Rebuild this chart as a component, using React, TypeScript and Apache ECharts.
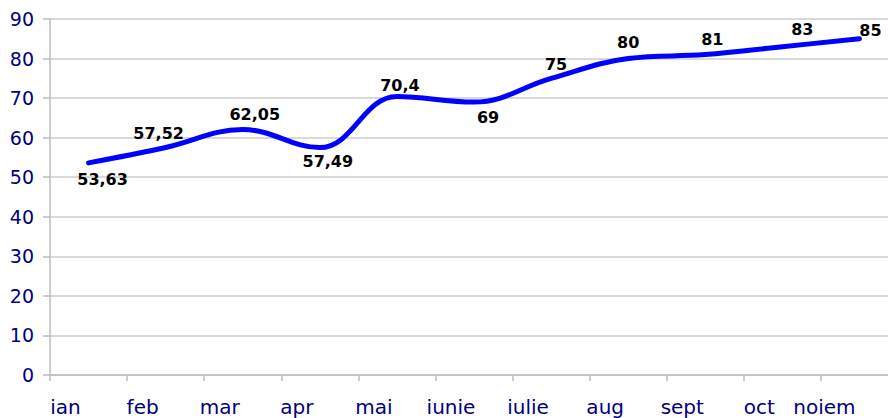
import React, { useEffect, useRef } from "react";
import * as echarts from "echarts";

const categories = ["ian", "feb", "mar", "apr", "mai", "iunie", "iulie", "aug", "sept", "oct", "noiem"];
const values = [53.63, 57.52, 62.05, 57.49, 70.4, 69, 75, 80, 81, 83, 85];
const yTicks = { min: 0, max: 90, interval: 10 };

// label placement per point (style only)
const labelPos = ["bottom", "top", "top", "bottom", "top", "bottom", "top", "top", "top", "top", "top"];
const labelOffset = [[14, 3], [-7, 0], [12, -1], [8, 0], [3, 3], [14, 1], [5, 0], [0, -2], [7, -1], [20, -3], [11, 6]];

export default function App() {
  const ref = useRef<HTMLDivElement>(null);
  useEffect(() => {
    document.body.style.margin = "0";
    document.body.style.overflow = "hidden";
    document.documentElement.style.overflow = "hidden";
    const chart = echarts.init(ref.current!, null, { renderer: "svg" });
    chart.setOption({
      animation: false,
      backgroundColor: "#ffffff",
      grid: { left: 50, top: 19, bottom: 43, right: 0 },
      xAxis: {
        type: "category",
        data: categories,
        boundaryGap: true,
        axisLine: { lineStyle: { color: "#bdbdbd", width: 1.5 } },
        axisTick: { show: true, length: 6, lineStyle: { color: "#bdbdbd", width: 1.5 } },
        axisLabel: {
          margin: 22,
          fontFamily: "DejaVu Sans",
          fontSize: 20,
          color: "#000080",
          interval: 0,
          formatter: (v: string, i: number) => (i === categories.length - 1 ? `{b|${v}}` : `{a|${v}}`),
          rich: {
            a: { fontFamily: "DejaVu Sans", fontSize: 20, color: "#000080", padding: [0, 46, 0, 0] },
            b: { fontFamily: "DejaVu Sans", fontSize: 20, color: "#000080", padding: [0, 70, 0, 0] },
          },
        },
        splitLine: { show: false },
      },
      yAxis: {
        type: "value",
        min: yTicks.min,
        max: yTicks.max,
        interval: yTicks.interval,
        axisLine: { show: true, lineStyle: { color: "#bdbdbd", width: 1.5 } },
        axisTick: { show: true, length: 7, lineStyle: { color: "#bdbdbd", width: 1.5 } },
        axisLabel: { margin: 16, fontFamily: "DejaVu Sans", fontSize: 19, color: "#000080" },
        splitLine: { show: true, lineStyle: { color: "#cccccc", width: 1.5 } },
      },
      series: [
        {
          type: "line",
          smooth: 0.4,
          showSymbol: true,
          symbol: "circle",
          symbolSize: 2,
          itemStyle: { color: "rgba(0,0,255,0)", borderWidth: 0 },
          lineStyle: { color: "#0000ff", width: 5, cap: "round", join: "round" },
          data: values.map((v, i) => ({
            value: v,
            label: {
              show: true,
              position: labelPos[i],
              offset: labelOffset[i],
            },
          })),
          label: {
            show: true,
            fontFamily: "DejaVu Sans",
            fontWeight: "bold",
            fontSize: 16,
            color: "#000000",
            formatter: (p: any) => String(p.value).replace(".", ","),
          },
        },
      ],
    });
    return () => chart.dispose();
  }, []);
  return <div ref={ref} style={{ width: 898, height: 418 }} />;
}
